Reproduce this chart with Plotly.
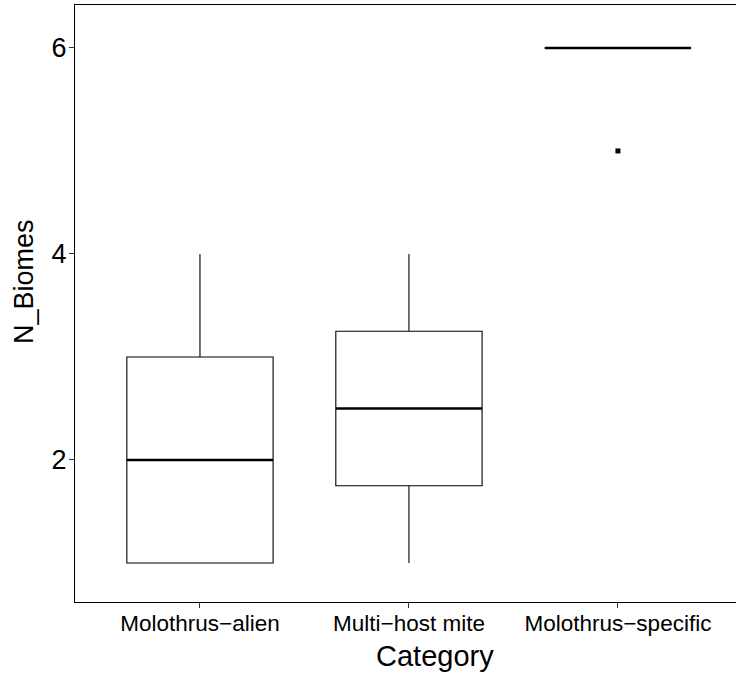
import plotly.graph_objects as go

categories = ["Molothrus\u2212alien", "Multi\u2212host mite", "Molothrus\u2212specific"]
positions = [1, 2, 3]
q1 = [1.0, 1.75, 6.0]
median = [2.0, 2.5, 6.0]
q3 = [3.0, 3.25, 6.0]
lower_whisker = [1.0, 1.0, 6.0]
upper_whisker = [4.0, 4.0, 6.0]
outlier_x = [3]
outlier_y = [5.0]
y_ticks = [2, 4, 6]

BOX_W = 0.7
FONT = "Liberation Sans, Arial, sans-serif"

fig = go.Figure()
for i in range(len(categories)):
    fig.add_trace(go.Box(
        x=[positions[i]], q1=[q1[i]], median=[median[i]], q3=[q3[i]],
        lowerfence=[lower_whisker[i]], upperfence=[upper_whisker[i]],
        width=BOX_W, whiskerwidth=0, fillcolor="white",
        line=dict(color="black", width=1.1), boxpoints=False,
        showlegend=False, hoverinfo="skip"))
    # thick median line (ggplot fatten)
    fig.add_trace(go.Scatter(
        x=[positions[i] - BOX_W / 2, positions[i] + BOX_W / 2],
        y=[median[i], median[i]], mode="lines",
        line=dict(color="black", width=2.6), showlegend=False, hoverinfo="skip"))

fig.add_trace(go.Scatter(
    x=outlier_x, y=outlier_y, mode="markers",
    marker=dict(symbol="square", size=5, color="black"),
    showlegend=False, hoverinfo="skip"))

fig.update_layout(
    width=736, height=676,
    margin=dict(l=75, r=0, t=5, b=74),
    plot_bgcolor="white", paper_bgcolor="white",
    font=dict(family=FONT, color="black"),
    xaxis=dict(range=[0.402, 3.565], tickvals=positions, ticktext=categories,
               showgrid=False, zeroline=False, showline=True, linecolor="black",
               linewidth=1.2, mirror=True, ticks="outside", ticklen=5,
               ticklabelstandoff=-4,
               tickcolor="#333", tickfont=dict(size=22.5, family=FONT, color="black")),
    yaxis=dict(range=[0.621, 6.417], tickvals=y_ticks,
               showgrid=False, zeroline=False, showline=True, linecolor="black",
               linewidth=1.2, ticks="outside", ticklen=5, tickcolor="#333",
               ticklabelstandoff=-3,
               tickfont=dict(size=27, family=FONT, color="black")),
    annotations=[
        dict(text="Category", xref="paper", yref="paper",
             x=(435 - 75) / 661, y=(602 - 656) / 597, xanchor="center", yanchor="middle",
             showarrow=False, font=dict(size=29, family=FONT, color="black")),
        dict(text="N_Biomes", xref="paper", yref="paper", textangle=-90,
             x=(24 - 75) / 661, y=(602 - 282) / 597, xanchor="center", yanchor="middle",
             showarrow=False, font=dict(size=27, family=FONT, color="black")),
    ],
)

fig.write_html("out.html")
